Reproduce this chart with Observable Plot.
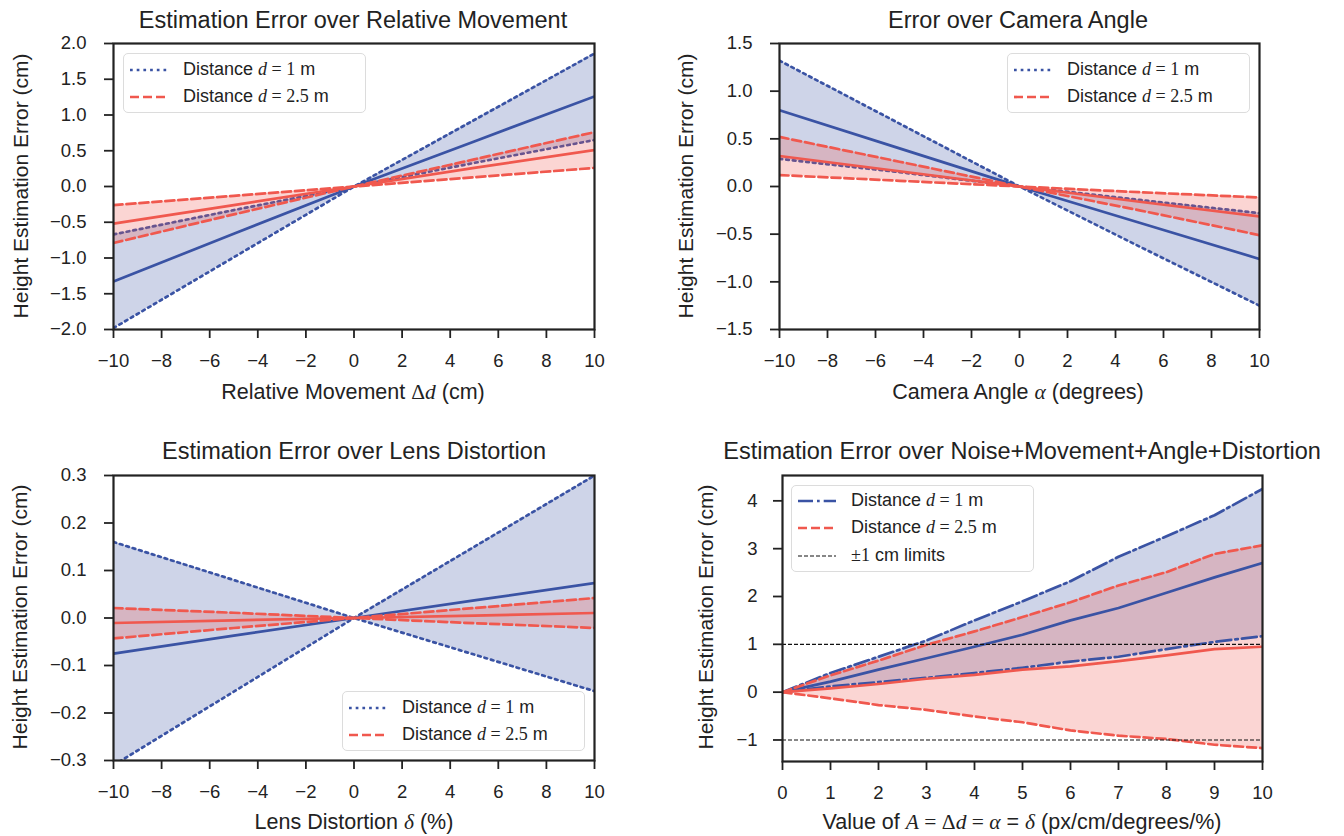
<!DOCTYPE html>
<html>
<head>
<meta charset="utf-8">
<script src="https://cdn.jsdelivr.net/npm/d3@7"></script>
<script src="https://cdn.jsdelivr.net/npm/@observablehq/plot@0.6"></script>
<style>
  html, body { margin: 0; padding: 0; background: #fff; }
  #fig { position: relative; width: 1344px; height: 836px; background: #fff; font-family: "Liberation Sans", Arial, sans-serif; color: #222; overflow: hidden; }
  .abs { position: absolute; white-space: nowrap; }
  .title { font-size: 23.5px; transform: translate(-50%, -50%); }
  .xlabel { font-size: 21.5px; transform: translate(-50%, -50%); }
  .ylabel { font-size: 21px; transform: translate(-50%, -50%) rotate(-90deg); }
  .m { font-family: "Liberation Serif", "DejaVu Serif", serif; }
  .mi { font-family: "Liberation Serif", "DejaVu Serif", serif; font-style: italic; }
  .legend { position: absolute; border: 1px solid #dcdcdc; border-radius: 5px; background: rgba(255,255,255,0.85); box-sizing: border-box; }
  .lrow { position: absolute; left: 0; white-space: nowrap; font-size: 18px; line-height: 20px; }
  .lrow svg { position: absolute; left: 6px; top: 4px; }
  .lrow span.t { position: absolute; left: 59px; top: -1px; }
  svg.plot { position: absolute; overflow: visible; }
</style>
</head>
<body>
<div id="fig"></div>
<script>
// ---------------- DATA ----------------
// Panel 1: Relative movement
const relX          = [-10, -5, 0, 5, 10];
const relBlueMean   = [-1.33, -0.66, 0, 0.63, 1.26];
const relBlueSteep  = [-1.98, -0.99, 0, 0.93, 1.86];
const relBlueFlat   = [-0.67, -0.33, 0, 0.33, 0.65];
const relRedMean    = [-0.52, -0.26, 0, 0.26, 0.51];
const relRedSteep   = [-0.79, -0.39, 0, 0.38, 0.76];
const relRedFlat    = [-0.26, -0.13, 0, 0.13, 0.26];

// Panel 2: Camera angle
const angX          = [-10, -5, 0, 5, 10];
const angBlueMean   = [0.80, 0.40, 0, -0.38, -0.76];
const angBlueSteep  = [1.32, 0.66, 0, -0.63, -1.25];
const angBlueFlat   = [0.29, 0.15, 0, -0.14, -0.28];
const angRedMean    = [0.32, 0.16, 0, -0.16, -0.315];
const angRedSteep   = [0.52, 0.26, 0, -0.25, -0.51];
const angRedFlat    = [0.12, 0.06, 0, -0.06, -0.115];

// Panel 3: Lens distortion
const lenX          = [-10, -5, 0, 5, 10];
const lenBlueMean   = [-0.075, -0.037, 0, 0.037, 0.0735];
const lenBlueRise   = [-0.31, -0.155, 0, 0.15, 0.30];
const lenBlueFall   = [0.16, 0.08, 0, -0.077, -0.154];
const lenRedMean    = [-0.0105, -0.005, 0, 0.005, 0.0105];
const lenRedRise    = [-0.043, -0.021, 0, 0.021, 0.042];
const lenRedFall    = [0.021, 0.011, 0, -0.011, -0.021];

// Panel 4: Combined
const allX          = [0, 1, 2, 3, 4, 5, 6, 7, 8, 9, 10];
const allBlueUpper  = [0, 0.40, 0.74, 1.08, 1.50, 1.90, 2.32, 2.83, 3.26, 3.70, 4.25];
const allBlueMean   = [0, 0.22, 0.47, 0.71, 0.95, 1.20, 1.50, 1.76, 2.08, 2.40, 2.70];
const allBlueLower  = [0, 0.12, 0.21, 0.30, 0.40, 0.51, 0.64, 0.74, 0.90, 1.05, 1.17];
const allRedUpper   = [0, 0.35, 0.66, 0.99, 1.27, 1.57, 1.88, 2.23, 2.51, 2.89, 3.07];
const allRedMean    = [0, 0.08, 0.17, 0.28, 0.36, 0.47, 0.54, 0.65, 0.77, 0.90, 0.95];
const allRedLower   = [0, -0.13, -0.27, -0.37, -0.51, -0.63, -0.80, -0.91, -0.98, -1.10, -1.17];
const limitValues   = [1, -1];

// Tick labels
const symTicksX   = [-10, -8, -6, -4, -2, 0, 2, 4, 6, 8, 10];
const relTicksY   = [-2, -1.5, -1, -0.5, 0, 0.5, 1, 1.5, 2];
const angTicksY   = [-1.5, -1, -0.5, 0, 0.5, 1, 1.5];
const lenTicksY   = [-0.3, -0.2, -0.1, 0, 0.1, 0.2, 0.3];
const allTicksX   = [0, 1, 2, 3, 4, 5, 6, 7, 8, 9, 10];
const allTicksY   = [-1, 0, 1, 2, 3, 4];

// ---------------- STYLE ----------------
const BLUE = "#3a53a4";
const RED = "#f0584e";
const LW = 2.7;
const DOT = "2.7,4";
const DASH = "9,4";
const DASHDOT = "15,4,2.7,4";
const LIMDASH = "4,2";

const fig = document.getElementById("fig");

function rows(x, cols) {
  return x.map((v, i) => {
    const r = {x: v};
    for (const k in cols) r[k] = cols[k][i];
    return r;
  });
}

function panel({frame, xDomain, yDomain, xTicks, yTicks, yFormat, xFormat, marks, yPad = 18}) {
  const mL = 80, mR = 12, mT = 12, mB = 60;
  const w = frame.x1 - frame.x0, h = frame.y1 - frame.y0;
  const svg = Plot.plot({
    width: w + mL + mR,
    height: h + mT + mB,
    marginLeft: mL, marginRight: mR, marginTop: mT, marginBottom: mB,
    style: {fontFamily: "'Liberation Sans', Arial, sans-serif", fontSize: "18.5px", color: "#222", background: "transparent", overflow: "visible"},
    x: {domain: xDomain, label: null},
    y: {domain: yDomain, label: null},
    marks: [
      ...marks,
      Plot.axisX({ticks: xTicks, tickFormat: xFormat, tickSize: 9, tickPadding: 15, strokeWidth: 1.8, label: null}),
      Plot.axisY({ticks: yTicks, tickFormat: yFormat, tickSize: 9, tickPadding: yPad, strokeWidth: 1.8, label: null}),
      Plot.frame({stroke: "#222", strokeWidth: 2.2})
    ]
  });
  svg.classList.add("plot");
  svg.style.left = (frame.x0 - mL) + "px";
  svg.style.top = (frame.y0 - mT) + "px";
  fig.appendChild(svg);
}

function text(cls, x, y, html) {
  const d = document.createElement("div");
  d.className = "abs " + cls;
  d.style.left = x + "px";
  d.style.top = y + "px";
  d.innerHTML = html;
  fig.appendChild(d);
}

function legend(x, y, w, h, entries) {
  const box = document.createElement("div");
  box.className = "legend";
  Object.assign(box.style, {left: x + "px", top: y + "px", width: w + "px", height: h + "px"});
  entries.forEach((e, i) => {
    const r = document.createElement("div");
    r.className = "lrow";
    r.style.top = (e.top - 10) + "px";
    r.innerHTML = `<svg width="40" height="12"><line x1="0" y1="6" x2="38" y2="6" stroke="${e.color}" stroke-width="${e.width}" stroke-dasharray="${e.dash}"/></svg><span class="t">${e.html}</span>`;
    box.appendChild(r);
  });
  fig.appendChild(box);
}

const lab1 = `Distance <span class="mi">d</span><span class="m"> = 1</span> m`;
const lab25 = `Distance <span class="mi">d</span><span class="m"> = 2.5</span> m`;
const yLab = "Height Estimation Error (cm)";

// ---------------- PANEL 1 ----------------
{
  const d = rows(relX, {bm: relBlueMean, bs: relBlueSteep, bf: relBlueFlat, rm: relRedMean, rs: relRedSteep, rf: relRedFlat});
  panel({
    frame: {x0: 113, x1: 594, y0: 43, y1: 329},
    xDomain: [-10, 10], yDomain: [-2, 2], xTicks: symTicksX, yTicks: relTicksY,
    xFormat: d3.format("d"), yFormat: d3.format(".1f"),
    marks: [
      Plot.areaY(d, {x: "x", y1: "bs", y2: "bf", fill: BLUE, fillOpacity: 0.25, clip: true}),
      Plot.line(d, {x: "x", y: "bs", stroke: BLUE, strokeWidth: LW, strokeDasharray: DOT, clip: true}),
      Plot.line(d, {x: "x", y: "bf", stroke: BLUE, strokeWidth: LW, strokeDasharray: DOT, clip: true}),
      Plot.line(d, {x: "x", y: "bm", stroke: BLUE, strokeWidth: LW, clip: true}),
      Plot.areaY(d, {x: "x", y1: "rs", y2: "rf", fill: RED, fillOpacity: 0.25, clip: true}),
      Plot.line(d, {x: "x", y: "rs", stroke: RED, strokeWidth: LW, strokeDasharray: DASH, clip: true}),
      Plot.line(d, {x: "x", y: "rf", stroke: RED, strokeWidth: LW, strokeDasharray: DASH, clip: true}),
      Plot.line(d, {x: "x", y: "rm", stroke: RED, strokeWidth: LW, clip: true})
    ]
  });
  text("title", 353, 20, "Estimation Error over Relative Movement");
  text("xlabel", 353, 392, `Relative Movement <span class="m">Δ</span><span class="mi">d</span> (cm)`);
  text("ylabel", 21, 186, yLab);
  legend(123, 53, 243, 60, [
    {top: 16, color: BLUE, width: LW, dash: DOT, html: lab1},
    {top: 43, color: RED, width: LW, dash: DASH, html: lab25}
  ]);
}

// ---------------- PANEL 2 ----------------
{
  const d = rows(angX, {bm: angBlueMean, bs: angBlueSteep, bf: angBlueFlat, rm: angRedMean, rs: angRedSteep, rf: angRedFlat});
  panel({
    frame: {x0: 779, x1: 1259, y0: 43, y1: 329},
    xDomain: [-10, 10], yDomain: [-1.5, 1.5], xTicks: symTicksX, yTicks: angTicksY,
    xFormat: d3.format("d"), yFormat: d3.format(".1f"),
    marks: [
      Plot.areaY(d, {x: "x", y1: "bs", y2: "bf", fill: BLUE, fillOpacity: 0.25, clip: true}),
      Plot.line(d, {x: "x", y: "bs", stroke: BLUE, strokeWidth: LW, strokeDasharray: DOT, clip: true}),
      Plot.line(d, {x: "x", y: "bf", stroke: BLUE, strokeWidth: LW, strokeDasharray: DOT, clip: true}),
      Plot.line(d, {x: "x", y: "bm", stroke: BLUE, strokeWidth: LW, clip: true}),
      Plot.areaY(d, {x: "x", y1: "rs", y2: "rf", fill: RED, fillOpacity: 0.25, clip: true}),
      Plot.line(d, {x: "x", y: "rs", stroke: RED, strokeWidth: LW, strokeDasharray: DASH, clip: true}),
      Plot.line(d, {x: "x", y: "rf", stroke: RED, strokeWidth: LW, strokeDasharray: DASH, clip: true}),
      Plot.line(d, {x: "x", y: "rm", stroke: RED, strokeWidth: LW, clip: true})
    ]
  });
  text("title", 1018, 20, "Error over Camera Angle");
  text("xlabel", 1018, 392, `Camera Angle <span class="mi">α</span> (degrees)`);
  text("ylabel", 686, 186, yLab);
  legend(1007, 53, 243, 60, [
    {top: 16, color: BLUE, width: LW, dash: DOT, html: lab1},
    {top: 43, color: RED, width: LW, dash: DASH, html: lab25}
  ]);
}

// ---------------- PANEL 3 ----------------
{
  const d = rows(lenX, {bm: lenBlueMean, br: lenBlueRise, bf: lenBlueFall, rm: lenRedMean, rr: lenRedRise, rf: lenRedFall});
  panel({
    frame: {x0: 113, x1: 594, y0: 475, y1: 760},
    xDomain: [-10, 10], yDomain: [-0.3, 0.3], xTicks: symTicksX, yTicks: lenTicksY,
    xFormat: d3.format("d"), yFormat: d3.format(".1f"),
    marks: [
      Plot.areaY(d, {x: "x", y1: "br", y2: "bf", fill: BLUE, fillOpacity: 0.25, clip: true}),
      Plot.line(d, {x: "x", y: "br", stroke: BLUE, strokeWidth: LW, strokeDasharray: DOT, clip: true}),
      Plot.line(d, {x: "x", y: "bf", stroke: BLUE, strokeWidth: LW, strokeDasharray: DOT, clip: true}),
      Plot.line(d, {x: "x", y: "bm", stroke: BLUE, strokeWidth: LW, clip: true}),
      Plot.areaY(d, {x: "x", y1: "rr", y2: "rf", fill: RED, fillOpacity: 0.25, clip: true}),
      Plot.line(d, {x: "x", y: "rr", stroke: RED, strokeWidth: LW, strokeDasharray: DASH, clip: true}),
      Plot.line(d, {x: "x", y: "rf", stroke: RED, strokeWidth: LW, strokeDasharray: DASH, clip: true}),
      Plot.line(d, {x: "x", y: "rm", stroke: RED, strokeWidth: LW, clip: true})
    ]
  });
  text("title", 354, 451, "Estimation Error over Lens Distortion");
  text("xlabel", 354, 822, `Lens Distortion <span class="mi">δ</span> (%)`);
  text("ylabel", 20, 617, yLab);
  legend(342, 691, 243, 60, [
    {top: 16, color: BLUE, width: LW, dash: DOT, html: lab1},
    {top: 43, color: RED, width: LW, dash: DASH, html: lab25}
  ]);
}

// ---------------- PANEL 4 ----------------
{
  const d = rows(allX, {bu: allBlueUpper, bm: allBlueMean, bl: allBlueLower, ru: allRedUpper, rm: allRedMean, rl: allRedLower});
  panel({
    frame: {x0: 782, x1: 1262, y0: 475, y1: 761},
    xDomain: [0, 10], yDomain: [-1.45, 4.53], xTicks: allTicksX, yTicks: allTicksY,
    xFormat: d3.format("d"), yFormat: d3.format("d"), yPad: 16,
    marks: [
      Plot.areaY(d, {x: "x", y1: "bl", y2: "bu", fill: BLUE, fillOpacity: 0.25, clip: true}),
      Plot.areaY(d, {x: "x", y1: "rl", y2: "ru", fill: RED, fillOpacity: 0.25, clip: true}),
      Plot.line(d, {x: "x", y: "bu", stroke: BLUE, strokeWidth: LW, strokeDasharray: DASHDOT, clip: true}),
      Plot.line(d, {x: "x", y: "bl", stroke: BLUE, strokeWidth: LW, strokeDasharray: DASHDOT, clip: true}),
      Plot.line(d, {x: "x", y: "bm", stroke: BLUE, strokeWidth: LW, clip: true}),
      Plot.line(d, {x: "x", y: "ru", stroke: RED, strokeWidth: LW, strokeDasharray: DASH, clip: true}),
      Plot.line(d, {x: "x", y: "rl", stroke: RED, strokeWidth: LW, strokeDasharray: DASH, clip: true}),
      Plot.line(d, {x: "x", y: "rm", stroke: RED, strokeWidth: LW, clip: true}),
      Plot.ruleY(limitValues, {stroke: "#111", strokeWidth: 1.1, strokeDasharray: LIMDASH})
    ]
  });
  text("title", 1022, 451, "Estimation Error over Noise+Movement+Angle+Distortion");
  text("xlabel", 1022, 822, `Value of <span class="mi">A</span><span class="m"> = Δ</span><span class="mi">d</span><span class="m"> = </span><span class="mi">α</span> = <span class="mi">δ</span> (px/cm/degrees/%)`);
  text("ylabel", 706, 617, yLab);
  legend(791, 485, 243, 87, [
    {top: 15, color: BLUE, width: LW, dash: DASHDOT, html: lab1},
    {top: 42, color: RED, width: LW, dash: DASH, html: lab25},
    {top: 70, color: "#111", width: 1.1, dash: LIMDASH, html: `<span class="m">±1</span> cm limits`}
  ]);
}
</script>
</body>
</html>
